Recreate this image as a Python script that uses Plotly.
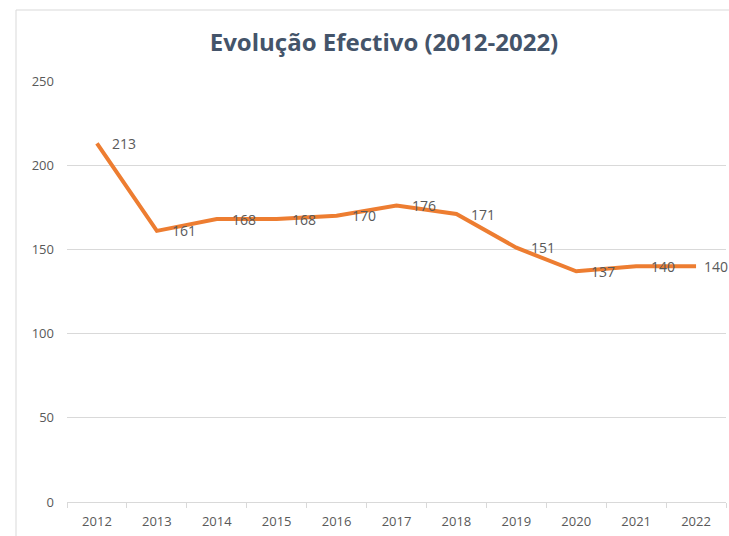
import plotly.graph_objects as go

years = ["2012", "2013", "2014", "2015", "2016", "2017", "2018", "2019", "2020", "2021", "2022"]
efectivo = [213, 161, 168, 168, 170, 176, 171, 151, 137, 140, 140]
title_text = "Evolução Efectivo (2012-2022)"

W, H = 729, 536
ml, mr, mt, mb = 67, 3, 81, 34
pw = W - ml - mr
ph = H - mt - mb

fig = go.Figure()
fig.add_trace(go.Scatter(
    x=years, y=efectivo, mode="lines",
    line=dict(color="#ED7D31", width=4),
    hoverinfo="x+y", showlegend=False,
))

n = len(efectivo)
for i, y in enumerate(efectivo):
    fig.add_annotation(x=i, y=y, xref="x", yref="y", text=str(y), showarrow=False,
                       xanchor="left", yanchor="middle",
                       xshift=13 if i < n - 1 else 6, yshift=0,
                       font=dict(family="Open Sans, sans-serif", size=14, color="#595959"))

# outer chart border (partially cropped in reference)
fig.add_shape(type="rect", xref="paper", yref="paper",
              x0=(16 - ml) / pw, x1=(W + 20 - ml) / pw,
              y0=(H - mb - (H + 20)) / ph, y1=(H - mb - 10) / ph,
              line=dict(color="#D9D9D9", width=1), fillcolor="rgba(0,0,0,0)", layer="below")

fig.update_layout(
    width=W, height=H,
    margin=dict(l=ml, r=mr, t=mt, b=mb),
    paper_bgcolor="white", plot_bgcolor="white",
    title=dict(text="<b>" + title_text + "</b>", x=384 / W, xanchor="center",
               y=1 - 43 / H, yanchor="middle",
               font=dict(family="Open Sans, sans-serif", size=24, color="#44546A")),
    font=dict(family="Open Sans, sans-serif", size=13, color="#595959"),
    xaxis=dict(type="category", range=[-0.5, 10.5], tickson="boundaries",
               showgrid=False, showline=True, linecolor="#D9D9D9", linewidth=1,
               ticks="outside", ticklen=5, tickcolor="#D9D9D9",
               ticklabelstandoff=7,
               tickfont=dict(size=13, color="#595959"), fixedrange=True),
    yaxis=dict(range=[0, 250], tickvals=[0, 50, 100, 150, 200, 250],
               showgrid=True, gridcolor="#D9D9D9", gridwidth=1,
               zeroline=False, showline=False, ticks="",
               ticklabelstandoff=12,
               tickfont=dict(size=13, color="#595959"), fixedrange=True),
)

fig.write_html("out.html", config={"displayModeBar": False},
               post_script="document.body.style.margin='0';document.body.style.overflow='hidden';")
